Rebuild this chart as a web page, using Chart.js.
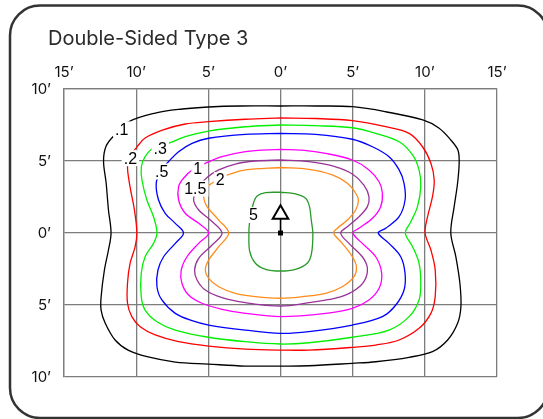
<!DOCTYPE html>
<html>
<head>
<meta charset="utf-8">
<script src="https://cdn.jsdelivr.net/npm/chart.js@4.4.0/dist/chart.umd.min.js"></script>
<style>
  html, body { margin: 0; padding: 0; background: #fff; }
  #chart { display: block; }
</style>
</head>
<body>
<canvas id="chart" width="543" height="419"></canvas>
<script>
const titleText = "Double-Sided Type 3";

// axis ticks (feet from the pole)
const xTickValues = [-15, -10, -5, 0, 5, 10, 15];
const xTickLabels = ["15’", "10’", "5’", "0’", "5’", "10’", "15’"];
const yTickValues = [-10, -5, 0, 5, 10];
const yTickLabels = ["10’", "5’", "0’", "5’", "10’"];

// isolux contours, [x, y] in feet
const iso01 = [[0,8.82],[-2.78,8.82],[-5.0,8.75],[-6.8,8.61],[-8.68,8.33],[-10.56,7.71],[-11.5,6.8],[-12.08,6.04],[-12.26,5.0],[-12.08,3.47],[-11.92,1.6],[-11.74,0],
  [-11.92,-1.18],[-12.2,-2.57],[-12.43,-4.44],[-12.43,-5.35],[-12.15,-6.25],[-11.46,-7.43],[-10.56,-8.13],[-9.17,-8.61],[-7.29,-8.96],[-5.0,-9.1],[-2.43,-9.24],[0,-9.24],
  [1.97,-9.22],[4.98,-9.05],[6.6,-8.94],[8.91,-8.63],[10.53,-8.24],[11.58,-7.43],[12.27,-6.27],[12.5,-5.12],[12.43,-3.49],[12.15,-1.65],[11.8,0],
  [12.03,1.81],[12.27,3.47],[12.38,4.93],[12.29,5.76],[11.8,6.46],[10.97,7.29],[9.86,7.85],[7.29,8.42],[5.0,8.77],[2.5,8.82],[0,8.82]];
const iso02 = [[0,7.99],[-2.43,7.9],[-5.0,7.73],[-6.6,7.57],[-8.19,7.15],[-9.38,6.6],[-9.95,5.97],[-10.5,5.2],[-10.6,4.51],[-10.42,3.19],[-10.12,1.6],[-9.95,0],
  [-10.07,-0.95],[-10.42,-2.1],[-10.6,-3.49],[-10.6,-4.88],[-10.3,-5.81],[-9.72,-6.51],[-8.68,-7.08],[-7.06,-7.55],[-4.98,-7.85],[-2.43,-8.06],[0,-8.13],
  [1.97,-8.13],[4.98,-7.94],[6.6,-7.78],[8.22,-7.43],[9.6,-6.62],[10.42,-5.58],[10.72,-4.42],[10.72,-2.57],[10.42,-1.18],[10.02,0],
  [10.19,1.13],[10.53,2.52],[10.65,3.68],[10.42,4.84],[9.84,5.99],[8.91,6.92],[7.29,7.38],[4.98,7.8],[2.43,7.95],[0,7.99]];
const iso03 = [[0,7.5],[-2.43,7.38],[-4.98,7.08],[-6.6,6.69],[-7.76,6.23],[-8.82,5.9],[-9.38,5.3],[-9.64,4.6],[-9.6,3.68],[-9.26,2.29],[-8.8,1.13],[-8.56,0],
  [-8.8,-0.72],[-9.38,-1.65],[-9.65,-2.8],[-9.65,-4.42],[-9.38,-5.35],[-8.56,-6.16],[-7.29,-6.74],[-4.98,-7.24],[-2.43,-7.55],[0,-7.71],
  [1.97,-7.62],[4.98,-7.24],[7.52,-6.74],[8.91,-5.81],[9.6,-4.65],[9.72,-3.49],[9.6,-2.1],[9.15,-0.95],[8.65,0],
  [9.03,0.78],[9.49,1.83],[9.72,3.22],[9.6,4.38],[9.15,5.42],[8.22,6.34],[6.6,6.92],[4.98,7.31],[2.43,7.45],[0,7.5]];
const iso05 = [[0,6.92],[-2.43,6.85],[-4.98,6.58],[-6.13,6.23],[-7.06,5.65],[-7.76,4.95],[-8.3,4.3],[-8.61,3.45],[-8.45,2.29],[-7.99,1.37],[-7.29,0.67],[-6.72,0],
  [-7.29,-0.72],[-8.1,-1.65],[-8.49,-2.57],[-8.56,-3.73],[-8.22,-4.65],[-7.29,-5.58],[-6.13,-6.09],[-4.98,-6.39],[-2.43,-6.74],[0,-6.97],
  [1.97,-6.85],[4.98,-6.39],[7.06,-5.81],[7.99,-5.0],[8.56,-3.96],[8.63,-2.8],[8.33,-1.65],[7.52,-0.72],[6.77,0],
  [7.29,0.33],[8.22,1.13],[8.63,2.29],[8.56,3.45],[8.22,4.38],[7.52,5.3],[6.37,5.99],[4.98,6.51],[2.43,6.85],[0,6.92]];
const iso1 = [[0,5.81],[-2.43,5.65],[-4.05,5.3],[-5.21,4.84],[-6.04,4.44],[-6.72,3.8],[-7.06,3.22],[-7.06,2.29],[-6.6,1.37],[-5.67,0.67],[-4.98,0],
  [-5.67,-0.72],[-6.48,-1.65],[-6.88,-2.57],[-6.83,-3.49],[-6.37,-4.31],[-5.44,-4.88],[-4.05,-5.3],[-2.43,-5.58],[0,-5.81],
  [3.13,-5.58],[4.98,-5.23],[6.13,-4.65],[6.83,-3.84],[7.01,-2.8],[6.6,-1.65],[5.67,-0.72],[5.02,0],
  [5.44,0.33],[6.37,1.02],[6.94,1.83],[7.06,2.76],[6.83,3.56],[6.13,4.38],[4.98,5.07],[3.13,5.53],[1.5,5.75],[0,5.81]];
const iso15 = [[0,5.07],[-1.74,5.0],[-3.13,4.79],[-4.28,4.38],[-5.09,3.85],[-5.75,3.1],[-6.02,2.29],[-5.67,1.6],[-4.86,0.9],[-4.05,0],
  [-4.74,-0.83],[-5.67,-1.76],[-5.95,-2.57],[-5.78,-3.26],[-5.21,-3.96],[-4.05,-4.49],[-2.43,-4.84],[0,-5.07],
  [1.97,-4.84],[3.82,-4.53],[4.98,-4.08],[5.78,-3.38],[6.02,-2.45],[5.67,-1.65],[4.74,-0.72],[4.17,0],
  [4.63,0.44],[5.44,1.13],[6.02,1.83],[6.13,2.52],[5.78,3.33],[4.98,4.1],[3.82,4.6],[1.97,4.95],[0,5.07]];
const iso2 = [[0,4.55],[-2.43,4.38],[-3.47,4.1],[-4.1,3.85],[-4.72,3.47],[-5.21,3.1],[-5.33,2.52],[-5.09,1.83],[-4.28,0.9],[-3.59,0],
  [-4.28,-0.95],[-4.98,-1.88],[-5.21,-2.57],[-4.98,-3.15],[-4.28,-3.73],[-3.13,-4.19],[-1.74,-4.42],[0,-4.53],
  [1.51,-4.42],[3.13,-4.19],[4.28,-3.73],[5.09,-3.03],[5.26,-2.34],[4.98,-1.65],[4.28,-0.72],[3.68,0],
  [3.94,0.33],[4.63,0.9],[5.21,1.6],[5.4,2.29],[5.21,2.76],[4.63,3.45],[3.59,4.03],[1.97,4.42],[0,4.55]];
const iso5 = [[0,2.83],[-1.04,2.8],[-1.62,2.57],[-1.85,2.15],[-2.01,1.46],[-2.15,0.69],[-2.19,0],
  [-2.13,-1.3],[-1.74,-2.1],[-1.04,-2.52],[0,-2.64],
  [1.04,-2.52],[1.85,-2.1],[2.15,-1.41],[2.24,0],
  [2.13,0.9],[2.01,1.83],[1.74,2.41],[1.04,2.71],[0,2.83]];

const contourLevels = [".1", ".2", ".3", ".5", "1", "1.5", "2", "5"];
const contourPoints = [iso01, iso02, iso03, iso05, iso1, iso15, iso2, iso5];
const labelX = [-11.0, -10.4, -8.33, -8.23, -5.73, -5.9, -4.17, -1.875];
const labelY = [7.2, 5.2, 5.87, 4.27, 4.44, 3.09, 3.68, 1.25];

// luminaire symbol at the pole
const poleX = [0];
const poleY = [0];
const stemY = [0, 0.97];
const triangleY = [1.3];

const contourColors = ["#000000", "#ff0000", "#00f000", "#0000ff", "#ff00ff", "#993399", "#ff8c1a", "#2a9a2a"];
const gridColor = "#7d7d7d";

const contourSets = contourPoints.map((pts, i) => ({
  label: contourLevels[i],
  data: pts.map(p => ({ x: p[0], y: p[1] })),
  showLine: true,
  borderColor: contourColors[i],
  borderWidth: 1.3,
  pointRadius: 0,
  tension: 0.35,
  fill: false,
}));

const decorations = {
  id: "decorations",
  afterDatasetsDraw(chart) {
    const { ctx, scales: { x, y } } = chart;
    ctx.save();
    ctx.font = "16px 'Liberation Sans', Arial, sans-serif";
    ctx.textAlign = "center";
    ctx.textBaseline = "middle";
    contourLevels.forEach((txt, i) => {
      const px = x.getPixelForValue(labelX[i]);
      const py = y.getPixelForValue(labelY[i]);
      const w = ctx.measureText(txt).width;
      ctx.fillStyle = "#fff";
      ctx.fillRect(px - w / 2 - 2, py - 8, w + 4, 16);
      ctx.fillStyle = "#000";
      ctx.fillText(txt, px, py + 1);
    });
    ctx.restore();
  },
  afterDraw(chart) {
    const ctx = chart.ctx;
    ctx.save();
    ctx.strokeStyle = "#333";
    ctx.lineWidth = 2.5;
    ctx.beginPath();
    ctx.roundRect(10, 5.5, 538, 412.5, 30);
    ctx.stroke();
    ctx.fillStyle = "#2b2b2b";
    ctx.font = "20px Inter";
    ctx.textBaseline = "alphabetic";
    ctx.textAlign = "left";
    ctx.fillText(titleText, 48, 45);
    ctx.restore();
  }
};

new Chart(document.getElementById("chart"), {
  type: "scatter",
  data: {
    datasets: [
      {
        data: [{ x: poleX[0], y: triangleY[0] }],
        pointStyle: "triangle",
        pointRadius: 9,
        borderWidth: 2,
        borderColor: "#000",
        backgroundColor: "#fff",
      },
      {
        data: [{ x: poleX[0], y: poleY[0] }],
        pointStyle: "rect",
        pointRadius: 3.5,
        borderWidth: 0,
        backgroundColor: "#000",
      },
      {
        data: stemY.map(v => ({ x: poleX[0], y: v })),
        showLine: true,
        borderColor: "#000",
        borderWidth: 1.5,
        pointRadius: 0,
      },
      ...contourSets,
    ],
  },
  options: {
    responsive: false,
    animation: false,
    events: [],
    layout: { padding: { left: 0, top: 0, right: 46, bottom: 42 } },
    plugins: {
      legend: { display: false },
      tooltip: { enabled: false },
    },
    scales: {
      x: {
        type: "linear",
        position: "top",
        min: -15,
        max: 15,
        afterBuildTicks: s => { s.ticks = xTickValues.map(v => ({ value: v })); },
        afterFit: s => { s.height = 89; },
        ticks: {
          callback: (v, i) => xTickLabels[i],
          font: { family: "Inter", size: 15 },
          color: "#111",
          padding: 8,
          maxRotation: 0,
        },
        grid: { color: gridColor, lineWidth: 1.3, drawTicks: false },
        border: { color: gridColor, width: 1.3 },
      },
      y: {
        type: "linear",
        min: -10,
        max: 10,
        afterBuildTicks: s => { s.ticks = yTickValues.map(v => ({ value: v })); },
        afterFit: s => { s.width = 64; },
        ticks: {
          callback: (v, i) => yTickLabels[i],
          font: { family: "Inter", size: 15 },
          color: "#111",
          padding: 13,
        },
        grid: { color: gridColor, lineWidth: 1.3, drawTicks: false },
        border: { color: gridColor, width: 1.3 },
      },
    },
  },
  plugins: [decorations],
});
</script>
</body>
</html>
